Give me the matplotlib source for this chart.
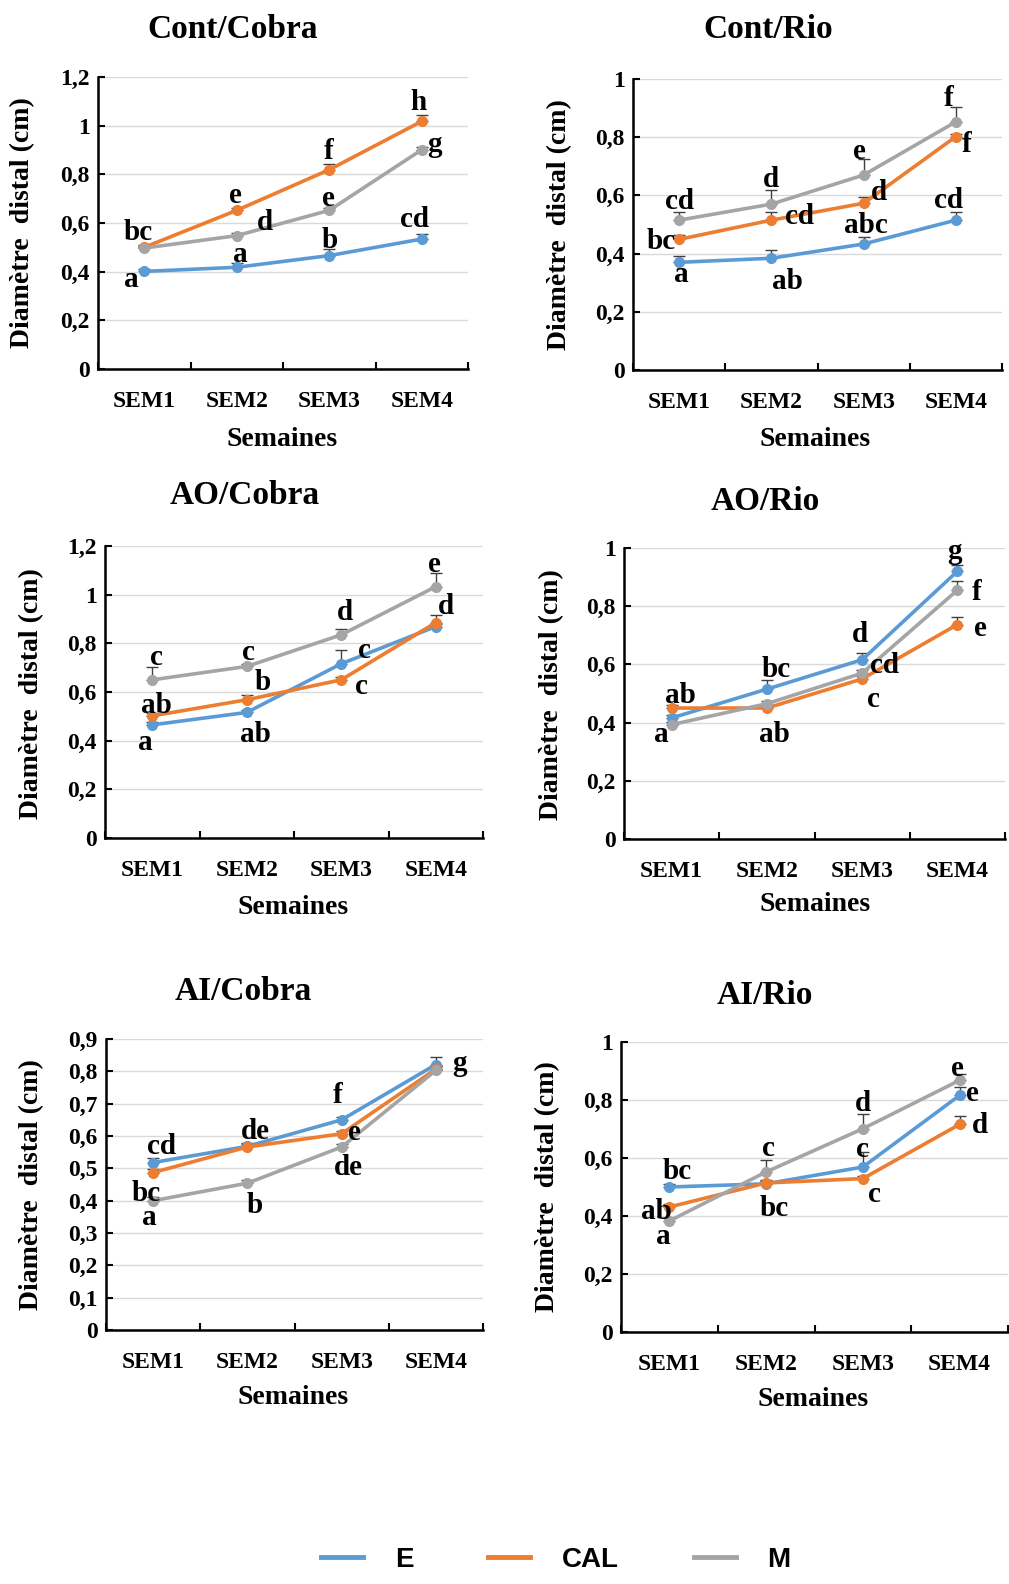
import matplotlib
matplotlib.use('Agg')
import numpy as np
import matplotlib.pyplot as plt
from matplotlib.lines import Line2D

# ---------------- DATA ----------------
weeks = ['SEM1', 'SEM2', 'SEM3', 'SEM4']
series_names = ['E', 'CAL', 'M']
titles = ['Cont/Cobra', 'Cont/Rio', 'AO/Cobra', 'AO/Rio', 'AI/Cobra', 'AI/Rio']
ylabel_text = 'Diamètre  distal (cm)'
xlabel_text = 'Semaines'

# Cont/Cobra
cont_cobra_E = [0.401, 0.418, 0.466, 0.534]
cont_cobra_CAL = [0.500, 0.652, 0.819, 1.018]
cont_cobra_M = [0.497, 0.548, 0.652, 0.901]
cont_cobra_E_err = [0.010, 0.018, 0.027, 0.020]
cont_cobra_CAL_err = [0.010, 0.010, 0.023, 0.027]
cont_cobra_M_err = [0.010, 0.010, 0.010, 0.010]
cont_cobra_E_let = ['a', 'a', 'b', 'cd']
cont_cobra_CAL_let = ['', 'e', 'f', 'h']
cont_cobra_M_let = ['bc', 'd', 'e', 'g']

# Cont/Rio
cont_rio_E = [0.370, 0.384, 0.433, 0.515]
cont_rio_CAL = [0.449, 0.515, 0.573, 0.802]
cont_rio_M = [0.515, 0.570, 0.670, 0.853]
cont_rio_E_err = [0.022, 0.030, 0.025, 0.029]
cont_rio_CAL_err = [0.015, 0.027, 0.023, 0.010]
cont_rio_M_err = [0.029, 0.050, 0.054, 0.050]
cont_rio_E_let = ['a', 'ab', 'abc', 'cd']
cont_rio_CAL_let = ['bc', 'cd', 'd', 'f']
cont_rio_M_let = ['cd', 'd', 'e', 'f']

# AO/Cobra
ao_cobra_E = [0.465, 0.516, 0.716, 0.869]
ao_cobra_CAL = [0.502, 0.568, 0.650, 0.885]
ao_cobra_M = [0.650, 0.705, 0.835, 1.033]
ao_cobra_E_err = [0.010, 0.010, 0.057, 0.010]
ao_cobra_CAL_err = [0.010, 0.020, 0.010, 0.030]
ao_cobra_M_err = [0.052, 0.010, 0.023, 0.057]
ao_cobra_E_let = ['a', 'ab', 'c', '']
ao_cobra_CAL_let = ['ab', 'b', 'c', 'd']
ao_cobra_M_let = ['c', 'c', 'd', 'e']

# AO/Rio
ao_rio_E = [0.416, 0.515, 0.616, 0.920]
ao_rio_CAL = [0.450, 0.450, 0.550, 0.737]
ao_rio_M = [0.393, 0.465, 0.570, 0.855]
ao_rio_E_err = [0.010, 0.030, 0.023, 0.023]
ao_rio_CAL_err = [0.010, 0.010, 0.010, 0.026]
ao_rio_M_err = [0.010, 0.010, 0.010, 0.030]
ao_rio_E_let = ['a', 'bc', 'd', 'g']
ao_rio_CAL_let = ['ab', 'ab', 'c', 'e']
ao_rio_M_let = ['', '', 'cd', 'f']

# AI/Cobra
ai_cobra_E = [0.518, 0.568, 0.650, 0.821]
ai_cobra_CAL = [0.487, 0.566, 0.607, 0.807]
ai_cobra_M = [0.400, 0.454, 0.566, 0.803]
ai_cobra_E_err = [0.015, 0.010, 0.010, 0.023]
ai_cobra_CAL_err = [0.010, 0.010, 0.010, 0.010]
ai_cobra_M_err = [0.010, 0.010, 0.010, 0.010]
ai_cobra_E_let = ['cd', '', 'f', 'g']
ai_cobra_CAL_let = ['bc', 'de', 'e', '']
ai_cobra_M_let = ['a', 'b', 'de', '']

# AI/Rio
ai_rio_E = [0.500, 0.511, 0.569, 0.816]
ai_rio_CAL = [0.431, 0.514, 0.529, 0.716]
ai_rio_M = [0.383, 0.552, 0.701, 0.868]
ai_rio_E_err = [0.010, 0.010, 0.052, 0.029]
ai_rio_CAL_err = [0.010, 0.010, 0.010, 0.029]
ai_rio_M_err = [0.010, 0.042, 0.050, 0.023]
ai_rio_E_let = ['bc', '', 'c', 'e']
ai_rio_CAL_let = ['ab', 'bc', 'c', 'd']
ai_rio_M_let = ['a', 'c', 'd', 'e']

# y ticks per panel
yticks_12 = [0, 0.2, 0.4, 0.6, 0.8, 1.0, 1.2]
yticklabels_12 = ['0', '0,2', '0,4', '0,6', '0,8', '1', '1,2']
yticks_10 = [0, 0.2, 0.4, 0.6, 0.8, 1.0]
yticklabels_10 = ['0', '0,2', '0,4', '0,6', '0,8', '1']
yticks_09 = [0, 0.1, 0.2, 0.3, 0.4, 0.5, 0.6, 0.7, 0.8, 0.9]
yticklabels_09 = ['0', '0,1', '0,2', '0,3', '0,4', '0,5', '0,6', '0,7', '0,8', '0,9']

panels = [
    dict(vals=[cont_cobra_E, cont_cobra_CAL, cont_cobra_M],
         errs=[cont_cobra_E_err, cont_cobra_CAL_err, cont_cobra_M_err],
         lets=[cont_cobra_E_let, cont_cobra_CAL_let, cont_cobra_M_let],
         yt=yticks_12, ytl=yticklabels_12),
    dict(vals=[cont_rio_E, cont_rio_CAL, cont_rio_M],
         errs=[cont_rio_E_err, cont_rio_CAL_err, cont_rio_M_err],
         lets=[cont_rio_E_let, cont_rio_CAL_let, cont_rio_M_let],
         yt=yticks_10, ytl=yticklabels_10),
    dict(vals=[ao_cobra_E, ao_cobra_CAL, ao_cobra_M],
         errs=[ao_cobra_E_err, ao_cobra_CAL_err, ao_cobra_M_err],
         lets=[ao_cobra_E_let, ao_cobra_CAL_let, ao_cobra_M_let],
         yt=yticks_12, ytl=yticklabels_12),
    dict(vals=[ao_rio_E, ao_rio_CAL, ao_rio_M],
         errs=[ao_rio_E_err, ao_rio_CAL_err, ao_rio_M_err],
         lets=[ao_rio_E_let, ao_rio_CAL_let, ao_rio_M_let],
         yt=yticks_10, ytl=yticklabels_10),
    dict(vals=[ai_cobra_E, ai_cobra_CAL, ai_cobra_M],
         errs=[ai_cobra_E_err, ai_cobra_CAL_err, ai_cobra_M_err],
         lets=[ai_cobra_E_let, ai_cobra_CAL_let, ai_cobra_M_let],
         yt=yticks_09, ytl=yticklabels_09),
    dict(vals=[ai_rio_E, ai_rio_CAL, ai_rio_M],
         errs=[ai_rio_E_err, ai_rio_CAL_err, ai_rio_M_err],
         lets=[ai_rio_E_let, ai_rio_CAL_let, ai_rio_M_let],
         yt=yticks_10, ytl=yticklabels_10),
]

# ---------------- LAYOUT / STYLE ----------------
colors = ['#5B9BD5', '#ED7D31', '#A5A5A5']
W, H = 1009, 1584

# left, right, top, bottom, title(x,y), ylabel(x,y), xlabel(x,y)  (pixels)
panel_px = [
    (98, 468, 77, 369, 233, 30, 23, 223, 282, 440),
    (633, 1002, 79, 370, 768, 30, 560, 225, 815, 440),
    (105, 483, 546, 838, 245, 495, 32, 694, 293, 907),
    (624, 1005, 548, 839, 765, 502, 552, 695, 815, 905),
    (106, 483, 1039, 1330, 243, 992, 32, 1185, 293, 1397),
    (621, 1008, 1042, 1332, 765, 995, 548, 1187, 813, 1400),
]

# letter offsets (dx in categories, dy in data units) relative to each point
offsets = [
    [[(-0.14, -0.02), (0.04, 0.066), (0.0, 0.076), (-0.08, 0.091)],
     [(0, 0), (-0.01, 0.074), (-0.01, 0.089), (-0.04, 0.089)],
     [(-0.07, 0.076), (0.30, 0.066), (-0.01, 0.06), (0.14, 0.035)]],
    [[(0.025, -0.032), (0.17, -0.069), (0.02, 0.073), (-0.08, 0.078)],
     [(-0.2, 0.003), (0.31, 0.023), (0.17, 0.048), (0.12, -0.017)],
     [(0.0, 0.073), (0.0, 0.094), (-0.04, 0.092), (-0.08, 0.092)]],
    [[(-0.077, -0.059), (0.096, -0.078), (0.25, 0.068), (0, 0)],
     [(0.046, 0.055), (0.17, 0.082), (0.21, -0.016), (0.11, 0.077)],
     [(0.046, 0.103), (0.015, 0.071), (0.04, 0.102), (-0.01, 0.103)]],
    [[(-0.105, -0.046), (0.10, 0.079), (-0.02, 0.098), (-0.025, 0.077)],
     [(0.088, 0.052), (0.075, -0.08), (0.12, -0.062), (0.24, -0.004)],
     [(0, 0), (0, 0), (0.24, 0.035), (0.2, 0.004)]],
    [[(0.09, 0.06), (0, 0), (-0.04, 0.085), (0.25, 0.013)],
     [(-0.076, -0.056), (0.08, 0.058), (0.14, 0.014), (0, 0)],
     [(-0.04, -0.044), (0.08, -0.06), (0.07, -0.055), (0, 0)]],
    [[(0.085, 0.063), (0, 0), (0.0, 0.069), (0.13, 0.017)],
     [(-0.13, -0.006), (0.08, -0.077), (0.12, -0.043), (0.21, 0.005)],
     [(-0.06, -0.044), (0.02, 0.092), (0.0, 0.096), (-0.02, 0.052)]],
]

serif = 'Liberation Serif'
plt.rcParams['font.family'] = [serif, 'DejaVu Serif']
plt.rcParams['font.weight'] = 'bold'

fig = plt.figure(figsize=(W / 100, H / 100), dpi=100)

x = np.arange(len(weeks))
for p, lay, offs, title in zip(panels, panel_px, offsets, titles):
    l, r, t, b, tx, ty, ylx, yly, xlx, xly = lay
    ax = fig.add_axes([l / W, 1 - b / H, (r - l) / W, (b - t) / H])
    for k in range(3):
        vals = np.array(p['vals'][k])
        err = np.array(p['errs'][k])
        ax.errorbar(x, vals, yerr=[np.zeros_like(err), err], fmt='none',
                    ecolor='#404040', elinewidth=1, capsize=4, capthick=1, zorder=2)
        ax.plot(x, vals, color=colors[k], lw=2.6, marker='o', ms=7,
                zorder=3 + k)
        for i in range(4):
            lab = p['lets'][k][i]
            if not lab:
                continue
            dx, dy = offs[k][i]
            ax.annotate(lab, xy=(x[i], vals[i]), xytext=(x[i] + dx, vals[i] + dy),
                        textcoords='data', ha='center', va='center_baseline',
                        fontsize=21, fontweight='bold', color='black', zorder=10)
    ax.set_xlim(-0.5, 3.5)
    ax.set_ylim(0, p['yt'][-1])
    ax.set_yticks(p['yt'])
    ax.set_yticklabels(p['ytl'])
    ax.set_xticks(x)
    ax.set_xticklabels(weeks)
    ax.set_xticks(np.arange(-0.5, 4.0, 1.0), minor=True)
    ax.tick_params(axis='x', which='major', length=0, pad=16, labelsize=17)
    ax.tick_params(axis='x', which='minor', direction='in', length=5, width=1.5)
    ax.tick_params(axis='y', which='major', direction='in', length=5, width=1.5,
                   pad=6, labelsize=17)
    ax.yaxis.grid(True, color='#D9D9D9', lw=1)
    ax.set_axisbelow(True)
    for s in ['top', 'right']:
        ax.spines[s].set_visible(False)
    for s in ['left', 'bottom']:
        ax.spines[s].set_linewidth(1.8)
    ax.set_ylabel(ylabel_text, fontsize=20, fontweight='bold', va='center', ha='center')
    ax.yaxis.set_label_coords((ylx - l) / (r - l), (b - yly) / (b - t))
    ax.set_xlabel(xlabel_text, fontsize=20, fontweight='bold', va='center', ha='center')
    ax.xaxis.set_label_coords((xlx - l) / (r - l), (b - xly) / (b - t))
    ax.text((tx - l) / (r - l), (b - ty) / (b - t), title, transform=ax.transAxes,
            ha='center', va='center', fontsize=24, fontweight='bold', clip_on=False)

handles = [Line2D([], [], color=c, lw=3.5) for c in colors]
fig.legend(handles, series_names, loc='center', bbox_to_anchor=(556 / W, 1 - 1560 / H),
           ncol=3, frameon=False,
           prop=dict(family='Liberation Sans', weight='bold', size=20),
           handlelength=1.5, handletextpad=1.15, columnspacing=2.7)

fig.savefig('out.png', dpi=100)
